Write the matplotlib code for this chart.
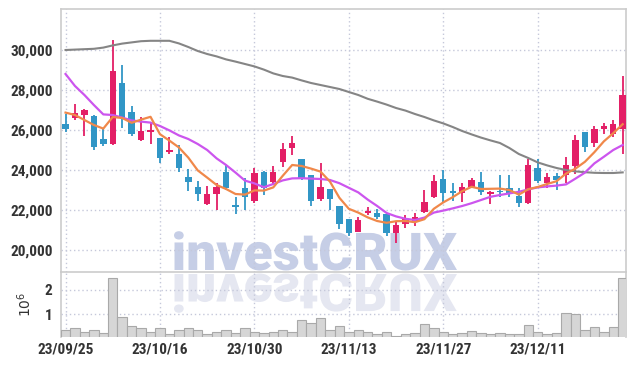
import matplotlib
matplotlib.use('Agg')
import matplotlib.pyplot as plt
from matplotlib.textpath import TextPath
from matplotlib.patches import PathPatch
from matplotlib.font_manager import FontProperties
from matplotlib.transforms import Affine2D, IdentityTransform

# 일봉 데이터 (23/09/25 ~ 23/12/22, 60 거래일)
opens = [26300, 26600, 26750, 26700, 25550, 25300, 28350, 26900, 25500, 25900,
         25600, 24900, 24800, 23650, 23150, 22300, 22800, 23900, 22250, 23100,
         22450, 23900, 23400, 24400, 25100, 24550, 23750, 22550, 23050, 22200,
         21550, 20900, 21850, 21850, 21800, 20850, 21300, 21450, 21900, 22650,
         23550, 22950, 22850, 23150, 23400, 22800, 22950, 23100, 22700, 22350,
         24100, 23350, 23700, 23750, 24200, 25900, 25350, 26050, 25800, 26050]
highs = [26800, 27300, 27050, 26750, 26050, 30500, 29250, 27200, 26650, 26350,
         25600, 25650, 25250, 24050, 23450, 23200, 23350, 24250, 22650, 23600,
         24100, 23950, 24200, 25350, 25700, 24550, 23750, 24350, 23050, 22200,
         21550, 21650, 22150, 22050, 21800, 21450, 21750, 21850, 23000, 23750,
         24000, 23350, 23350, 23600, 23900, 22950, 23750, 23750, 23100, 24550,
         24550, 23850, 23850, 24650, 25750, 25900, 26200, 26350, 26500, 28700]
lows = [25900, 26500, 25700, 25000, 25200, 25250, 26100, 25700, 25450, 25300,
        24350, 24800, 23900, 22950, 22450, 22250, 22000, 23000, 21800, 22000,
        22350, 22750, 23300, 24150, 24750, 23500, 22200, 22450, 22000, 21050,
        20700, 20900, 21750, 21550, 20700, 20350, 21100, 21200, 21850, 22600,
        22400, 22450, 22400, 23100, 22750, 22300, 22650, 22650, 22150, 22300,
        23350, 23100, 23000, 23350, 23800, 24900, 25150, 25800, 25650, 24800]
closes = [26050, 26850, 27000, 25150, 25300, 28950, 26600, 25800, 25950, 26000,
          24600, 25000, 24100, 23400, 22800, 22800, 23150, 23100, 22150, 22650,
          23850, 23100, 23900, 25050, 25350, 23600, 22450, 23150, 22550, 21300,
          20850, 21500, 21950, 21650, 20850, 21250, 21550, 21650, 22400, 23450,
          22850, 22850, 23150, 23500, 22900, 22900, 22900, 22800, 22350, 24250,
          23450, 23650, 23500, 24250, 25500, 25150, 26050, 26200, 26300, 27750]
# 거래량 (백만 주)
volumes = [0.33, 0.42, 0.28, 0.34, 0.24, 2.48, 0.88, 0.52, 0.42, 0.26,
           0.42, 0.19, 0.34, 0.42, 0.34, 0.19, 0.28, 0.34, 0.22, 0.42,
           0.28, 0.22, 0.26, 0.34, 0.26, 0.77, 0.63, 0.84, 0.34, 0.51,
           0.28, 0.34, 0.26, 0.19, 0.26, 0.12, 0.18, 0.22, 0.59, 0.42,
           0.28, 0.18, 0.22, 0.30, 0.22, 0.18, 0.22, 0.18, 0.18, 0.55,
           0.28, 0.18, 0.22, 1.04, 1.00, 0.33, 0.47, 0.28, 0.47, 2.48]

# 이동평균선
ma5 = [26870, 26750, 26500, 26250, 26070, 26650, 26600, 26360, 26520, 26660,
       25790, 25470, 25130, 24620, 23980, 23620, 23250, 23050, 22800, 22770,
       22980, 22970, 23130, 23710, 24250, 24200, 24070, 23920, 23420, 22610,
       22060, 21870, 21630, 21450, 21360, 21440, 21450, 21390, 21540, 22060,
       22380, 22640, 22940, 23160, 23050, 23060, 23070, 23000, 22770, 23040,
       23150, 23300, 23440, 23820, 24070, 24410, 24890, 25430, 25840, 26290]
ma20 = [28800, 28200, 27750, 27250, 26780, 26750, 26620, 26480, 26420, 26370,
        26200, 25980, 25730, 25550, 25300, 25000, 24580, 24250, 23870, 23470,
        23330, 23140, 23300, 23480, 23580, 23590, 23570, 23550, 23500, 23340,
        23110, 22880, 22520, 22200, 21850, 21680, 21560, 21500, 21620, 21870,
        21970, 22080, 22200, 22340, 22500, 22660, 22750, 22830, 22910, 23030,
        23130, 23180, 23220, 23280, 23570, 23870, 24330, 24660, 25000, 25250]
ma60 = [30000, 30020, 30040, 30060, 30120, 30230, 30320, 30380, 30440, 30460,
        30460, 30460, 30330, 30150, 29950, 29800, 29680, 29530, 29420, 29300,
        29180, 29020, 28830, 28700, 28620, 28480, 28350, 28250, 28150, 28050,
        27900, 27750, 27560, 27420, 27270, 27100, 26970, 26800, 26650, 26480,
        26330, 26150, 25950, 25780, 25620, 25480, 25350, 25100, 24800, 24600,
        24380, 24230, 24100, 24000, 23930, 23890, 23860, 23850, 23850, 23880]

tick_pos = [0, 10, 20, 30, 40, 50]
tick_labels = ['23/09/25', '23/10/16', '23/10/30', '23/11/13', '23/11/27', '23/12/11']

UP = '#e31f66'
DOWN = '#3196c6'
GRID = '#c5c8da'
lab_font = dict(family=['Liberation Sans Narrow', 'Roboto Condensed', 'DejaVu Sans'],
                weight='bold', size=11, color='#333333')

fig = plt.figure(figsize=(6.34, 3.66), dpi=100)
ax = fig.add_axes([61/634, 94/366, 565/634, 263/366])
axv = fig.add_axes([61/634, 29/366, 565/634, 65/366], sharex=ax)
for a in (ax, axv):
    a.set_facecolor('none')

# 워터마크 (반사 포함) - 폭 283px, 대문자 높이 37px
fp = FontProperties(family='Roboto', weight='black')
tp = TextPath((0, 0), 'investCRUX', size=100, prop=fp)
ext = tp.get_extents()
sx = 283 / ext.width
sy = 37 / 71.0
wm = PathPatch(tp, transform=Affine2D().translate(-ext.x0, 0).scale(sx, sy).translate(174, 96) + IdentityTransform(),
               facecolor='#c6cee6', edgecolor='none', zorder=-5)
wm_r = PathPatch(tp, transform=Affine2D().translate(-ext.x0, 0).scale(sx, -sy).translate(174, 92) + IdentityTransform(),
                 facecolor='#e5e7f1', edgecolor='none', zorder=-5)
fig.add_artist(wm)
fig.add_artist(wm_r)

x = list(range(len(closes)))

# 캔들
for i in x:
    o, h, l, c = opens[i], highs[i], lows[i], closes[i]
    col = UP if c >= o else DOWN
    ax.vlines(i, l, h, color=col, lw=1.3, zorder=3)
    body = max(abs(c - o), 60)
    ax.bar(i, body, bottom=min(o, c), width=0.68, color=col, zorder=4)

ax.plot(x, ma60, color='#858585', lw=1.5, zorder=5)
ax.plot(x, ma20, color='#cc55ee', lw=1.6, zorder=5)
ax.plot(x, ma5, color='#f0884a', lw=1.6, zorder=5)

ax.set_xlim(-0.48, 59.35)
ax.set_ylim(18900, 32050)
ax.set_yticks([20000, 22000, 24000, 26000, 28000, 30000])
ax.set_yticklabels(['20,000', '22,000', '24,000', '26,000', '28,000', '30,000'], **lab_font)
ax.grid(True, color=GRID, ls=(0, (1, 2)), lw=1)
ax.tick_params(axis='both', length=0, pad=6)
ax.tick_params(axis='x', labelbottom=False)

# 거래량
axv.bar(x, [v * 1e6 for v in volumes], width=1.0, color='#d6d6d6', edgecolor='#a9a9a9', lw=0.8, zorder=3)
axv.set_ylim(0.06e6, 2.74e6)
axv.set_yticks([1e6, 2e6])
axv.set_yticklabels(['1', '2'], **lab_font)
axv.set_ylabel('$10^6$', fontsize=10, color='#333333', labelpad=8)
axv.set_xticks(tick_pos)
axv.set_xticklabels(tick_labels, **lab_font)
axv.grid(True, color=GRID, ls=(0, (1, 2)), lw=1)
axv.tick_params(axis='both', length=0, pad=6)
axv.tick_params(axis='x', pad=4)

for a in (ax, axv):
    for sp in a.spines.values():
        sp.set_color('#cccccc')
        sp.set_linewidth(1.2)
axv.spines['bottom'].set_visible(False)
ax.spines['bottom'].set_visible(False)

plt.savefig('out.png', dpi=100)
